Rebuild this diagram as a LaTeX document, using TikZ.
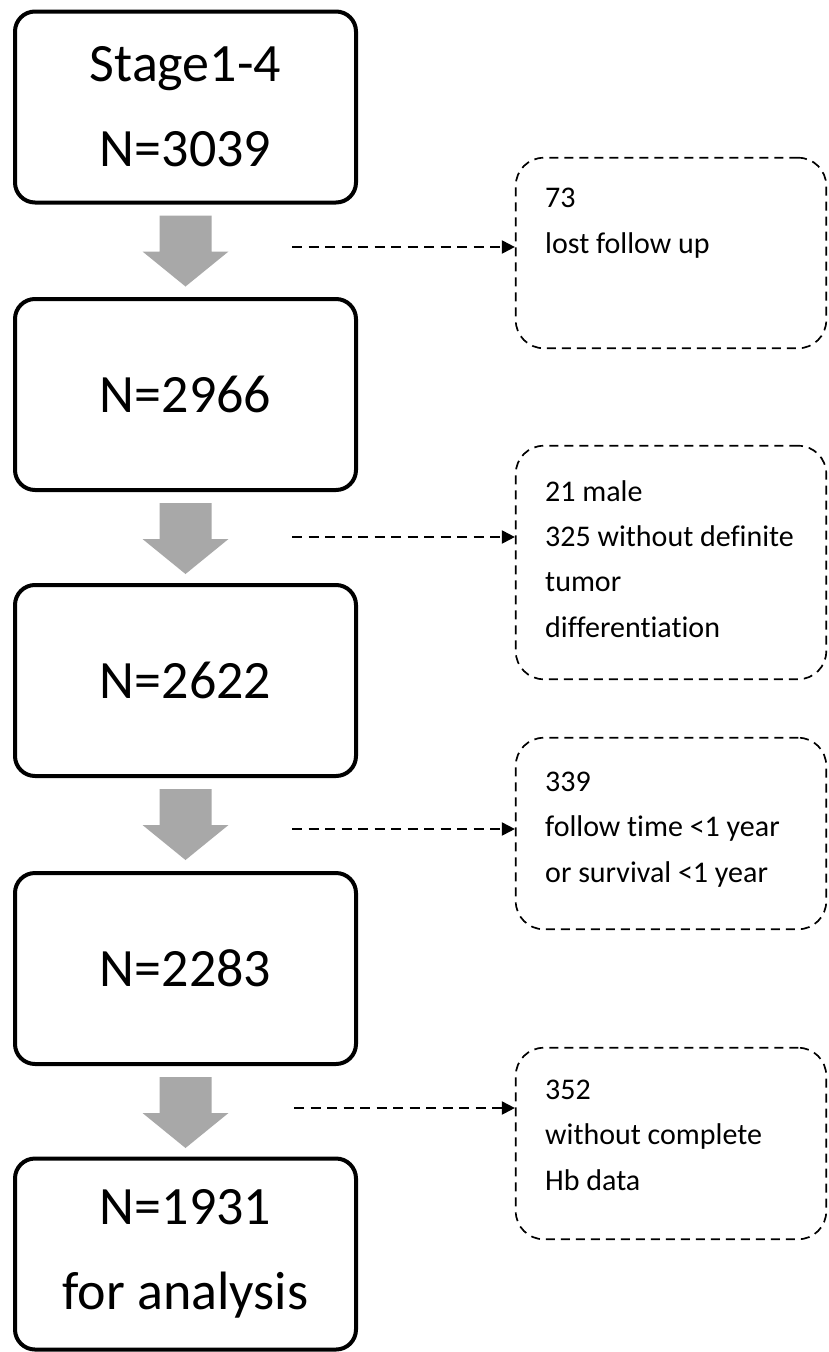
\documentclass[tikz,border=0pt]{standalone}
\usepackage{fontspec}
\setmainfont{Carlito}[Ligatures=NoCommon]
\usetikzlibrary{arrows.meta}
\definecolor{arrowgray}{RGB}{168,168,168}
\begin{document}
\begin{tikzpicture}[x=1pt,y=-1pt,
  mainbox/.style={draw, line width=4pt, rounded corners=20pt,
    minimum width=341pt, minimum height=191pt, inner sep=0pt,
    align=center, font=\fontsize{54}{85}\selectfont},
  exclbox/.style={draw, line width=1.7pt, dash pattern=on 9pt off 6pt,
    rounded corners=28pt, minimum width=310.5pt, inner sep=0pt},
  excltext/.style={anchor=base west, inner sep=0pt, align=left,
    font=\fontsize{30}{45.3}\selectfont},
  dasharrow/.style={line width=2pt, dash pattern=on 10pt off 6.5pt,
    -{Triangle[length=13pt,width=13pt]}},
  grayarrow/.pic={\fill[arrowgray] (-26,0) -- (26,0) -- (26,36) -- (43,36)
    -- (0,71) -- (-43,36) -- (-26,36) -- cycle;}]
\useasboundingbox (0,0) rectangle (828,1352);
\fill[white] (0,0) rectangle (828,1352);

% main boxes
\node[mainbox] (b1) at (185.5,107) {Stage1-4\\N=3039};
\node[mainbox] (b2) at (185.5,394.5) {N=2966};
\node[mainbox] (b3) at (185.5,680.5) {N=2622};
\node[mainbox] (b4) at (185.5,968.5) {N=2283};
\node[mainbox] (b5) at (185.5,1254) {N=1931\\for analysis};

% gray arrows between main boxes
\pic at ([yshift=-11pt]b1.south) {grayarrow};
\pic at ([yshift=-11pt]b2.south) {grayarrow};
\pic at ([yshift=-11pt]b3.south) {grayarrow};
\pic at ([yshift=-11pt]b4.south) {grayarrow};

% exclusion boxes
\node[exclbox, minimum height=190.5pt] (e1) at (671,253) {};
\node[exclbox, minimum height=233.5pt] (e2) at (671,562.5) {};
\node[exclbox, minimum height=191.5pt] (e3) at (671,833.5) {};
\node[exclbox, minimum height=191.5pt] (e4) at (671,1143.5) {};

% texts (anchored at the baseline of their last line)
\node[excltext] (t1) at (545,253) {73\\lost follow up};
\node[excltext] (t2) at (545,637) {21 male\\325 without definite\\tumor\\differentiation};
\node[excltext] (t3) at (545,882) {339\\follow time <1 year\\or survival <1 year};
\node[excltext] (t4) at (545,1190) {352\\without complete\\Hb data};

% dashed arrows
\coordinate (s1) at (292,247);
\coordinate (s2) at (292,537);
\coordinate (s3) at (292,829);
\coordinate (s4) at (294,1108);
\draw[dasharrow] (s1) -- (s1 -| e1.west);
\draw[dasharrow] (s2) -- (s2 -| e2.west);
\draw[dasharrow] (s3) -- (s3 -| e3.west);
\draw[dasharrow] (s4) -- (s4 -| e4.west);
\end{tikzpicture}
\end{document}
